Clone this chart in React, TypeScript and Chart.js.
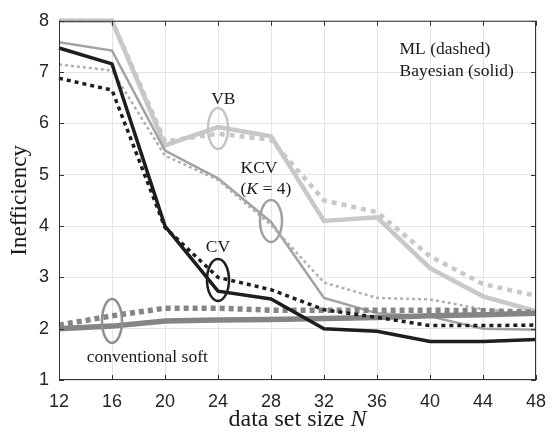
import React, { useEffect, useRef } from "react";
import { Chart, registerables } from "chart.js";

Chart.register(...registerables);

const sizes = [12, 16, 20, 24, 28, 32, 36, 40, 44, 48];
const yTicks = [1, 2, 3, 4, 5, 6, 7, 8];
const xTicks = [12, 16, 20, 24, 28, 32, 36, 40, 44, 48];

const vbBayes = [8.0, 8.0, 5.57, 5.93, 5.75, 4.1, 4.17, 3.18, 2.63, 2.34];
const vbML = [8.0, 8.0, 5.65, 5.8, 5.68, 4.5, 4.27, 3.41, 2.87, 2.64];
const kcvBayes = [7.58, 7.42, 5.47, 4.93, 4.08, 2.6, 2.3, 2.24, 2.0, 1.98];
const kcvML = [7.15, 7.03, 5.37, 4.9, 4.02, 2.9, 2.6, 2.57, 2.38, 2.28];
const cvBayes = [7.47, 7.16, 4.0, 2.73, 2.58, 2.0, 1.95, 1.75, 1.75, 1.79];
const cvML = [6.88, 6.65, 3.97, 3.0, 2.76, 2.37, 2.22, 2.06, 2.06, 2.07];
const convBayes = [2.0, 2.05, 2.15, 2.17, 2.18, 2.2, 2.22, 2.25, 2.27, 2.3];
const convML = [2.07, 2.25, 2.4, 2.4, 2.36, 2.36, 2.36, 2.36, 2.35, 2.32];

const SERIF = "'Liberation Serif', 'Times New Roman', serif";
const SANS = "'Liberation Sans', Arial, sans-serif";

type Part = [string, boolean];

function drawRich(
  ctx: CanvasRenderingContext2D,
  parts: Part[],
  x: number,
  y: number,
  size: number,
  align: "left" | "center",
  color: string
) {
  ctx.save();
  ctx.fillStyle = color;
  ctx.textBaseline = "middle";
  ctx.textAlign = "left";
  const fonts = parts.map(([, it]) => `${it ? "italic " : ""}${size}px ${SERIF}`);
  let total = 0;
  const widths = parts.map(([t], i) => {
    ctx.font = fonts[i];
    const w = ctx.measureText(t).width;
    total += w;
    return w;
  });
  let cx = align === "center" ? x - total / 2 : x;
  parts.forEach(([t], i) => {
    ctx.font = fonts[i];
    ctx.fillText(t, cx, y);
    cx += widths[i];
  });
  ctx.restore();
}

const annotationPlugin = {
  id: "annotations",
  afterDatasetsDraw(chart: any) {
    const ctx: CanvasRenderingContext2D = chart.ctx;
    const xs = chart.scales.x;
    const ys = chart.scales.y;
    const px = (v: number) => xs.getPixelForValue(v);
    const py = (v: number) => ys.getPixelForValue(v);
    const area = chart.chartArea;

    const ellipses: [number, number, number, number, string][] = [
      [24, 5.9, 10, 20.5, "#c4c4c4"],
      [28, 4.1, 11, 21, "#a0a0a0"],
      [24, 2.95, 11, 21, "#1e1e1e"],
      [16, 2.15, 10, 22, "#909090"],
    ];
    ctx.save();
    ctx.lineWidth = 2.5;
    ellipses.forEach(([dx, dy, rx, ry, c]) => {
      ctx.strokeStyle = c;
      ctx.beginPath();
      ctx.ellipse(px(dx), py(dy), rx, ry, 0, 0, Math.PI * 2);
      ctx.stroke();
    });
    ctx.restore();

    const tc = "#1a1a1a";
    const fs = 17.5;
    drawRich(ctx, [["VB", false]], px(24.4), py(6.47), fs, "center", tc);
    drawRich(ctx, [["KCV", false]], px(25.7), py(5.13), fs, "left", tc);
    drawRich(ctx, [["(", false], ["K", true], [" = 4)", false]], px(25.7), py(4.71), fs, "left", tc);
    drawRich(ctx, [["CV", false]], px(24.0), py(3.58), fs, "center", tc);
    drawRich(ctx, [["conventional soft", false]], px(14.1), py(1.44), fs, "left", tc);
    drawRich(ctx, [["ML (dashed)", false]], px(37.7), py(7.44), fs, "left", tc);
    drawRich(ctx, [["Bayesian (solid)", false]], px(37.7), py(7.02), fs, "left", tc);

    ctx.save();
    ctx.strokeStyle = "#333333";
    ctx.lineWidth = 1;
    ctx.strokeRect(area.left + 0.5, area.top + 0.5, area.right - area.left - 1, area.bottom - area.top - 1);
    ctx.beginPath();
    const tl = 5;
    xTicks.forEach((t) => {
      const x = Math.round(px(t)) + 0.5;
      ctx.moveTo(x, area.top);
      ctx.lineTo(x, area.top + tl);
      ctx.moveTo(x, area.bottom);
      ctx.lineTo(x, area.bottom - tl);
    });
    yTicks.forEach((t) => {
      const y = Math.round(py(t)) + 0.5;
      ctx.moveTo(area.right, y);
      ctx.lineTo(area.right - tl, y);
      ctx.moveTo(area.left, y);
      ctx.lineTo(area.left + tl, y);
    });
    ctx.stroke();
    ctx.restore();

    const midX = (area.left + area.right) / 2;
    const midY = (area.top + area.bottom) / 2;
    drawRich(ctx, [["data set size ", false], ["N", true]], midX, 420, 24, "center", tc);
    ctx.save();
    ctx.translate(20, midY);
    ctx.rotate(-Math.PI / 2);
    drawRich(ctx, [["Inefficiency", false]], 0, 0, 23, "center", tc);
    ctx.restore();
  },
};

function mk(label: string, data: number[], color: string, width: number, dash: number[], order: number) {
  return {
    label,
    data: sizes.map((s, i) => ({ x: s, y: data[i] })),
    borderColor: color,
    backgroundColor: color,
    borderWidth: width,
    borderDash: dash,
    borderCapStyle: "butt",
    borderJoinStyle: "miter",
    pointRadius: 0,
    fill: false,
    tension: 0,
    order,
    clip: 6,
  };
}

export default function App() {
  const ref = useRef<HTMLCanvasElement | null>(null);

  useEffect(() => {
    document.body.style.margin = "0";
    const canvas = ref.current;
    if (!canvas) return;
    const chart = new Chart(canvas, {
      type: "line",
      data: {
        datasets: [
          mk("VB Bayesian", vbBayes, "#c8c8c8", 4.5, [], 8),
          mk("VB ML", vbML, "#c8c8c8", 4.5, [5, 5], 7),
          mk("KCV Bayesian", kcvBayes, "#a2a2a2", 2.5, [], 6),
          mk("KCV ML", kcvML, "#b0b0b0", 2.5, [3, 3], 5),
          mk("conv Bayesian", convBayes, "#858585", 5.5, [], 4),
          mk("conv ML", convML, "#858585", 5.5, [5, 4], 3),
          mk("CV ML", cvML, "#1e1e1e", 3.5, [4, 4], 2),
          mk("CV Bayesian", cvBayes, "#1e1e1e", 3.5, [], 1),
        ] as any,
      },
      options: {
        animation: false,
        responsive: false,
        events: [],
        layout: { padding: { left: 0, right: 22, top: 14, bottom: 0 } },
        plugins: { legend: { display: false }, tooltip: { enabled: false } },
        scales: {
          x: {
            type: "linear",
            min: 12,
            max: 48,
            afterBuildTicks: (axis: any) => {
              axis.ticks = xTicks.map((v) => ({ value: v }));
            },
            afterFit: (axis: any) => {
              axis.height = 59;
            },
            grid: { color: "#e4e4e4", lineWidth: 1, drawTicks: false },
            border: { display: false },
            ticks: {
              color: "#262626",
              font: { family: SANS, size: 18 },
              padding: 11,
              maxRotation: 0,
              autoSkip: false,
            },
          },
          y: {
            type: "linear",
            min: 1,
            max: 8,
            afterBuildTicks: (axis: any) => {
              axis.ticks = yTicks.map((v) => ({ value: v }));
            },
            afterFit: (axis: any) => {
              axis.width = 59;
            },
            grid: { color: "#e4e4e4", lineWidth: 1, drawTicks: false },
            border: { display: false },
            ticks: {
              color: "#262626",
              font: { family: SANS, size: 18 },
              padding: 10,
              autoSkip: false,
            },
          },
        },
      } as any,
      plugins: [annotationPlugin],
    });
    return () => chart.destroy();
  }, []);

  return (
    <div style={{ position: "fixed", left: 0, top: 0, width: 558, height: 439, background: "#fff" }}>
      <canvas ref={ref} width={558} height={439} style={{ width: 558, height: 439, display: "block" }} />
    </div>
  );
}
